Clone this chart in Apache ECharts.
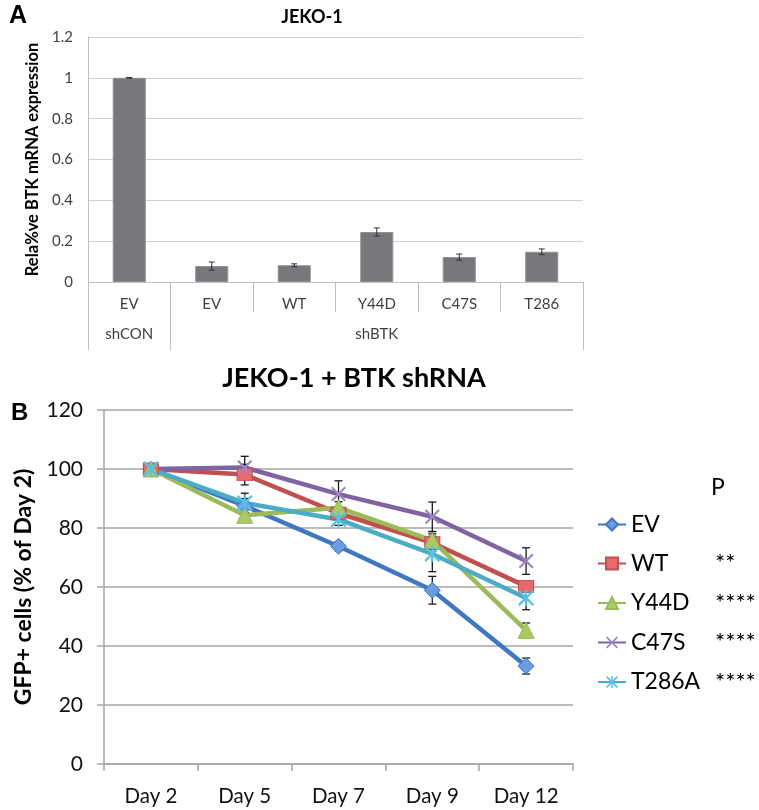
<!DOCTYPE html>
<html>
<head>
<meta charset="utf-8">
<script src="https://cdn.jsdelivr.net/npm/echarts@6/dist/echarts.min.js"></script>
<style>
html,body{margin:0;padding:0;background:#fff;}
#chart{width:759px;height:810px;}
</style>
</head>
<body>
<div id="chart"></div>
<script>
// ---------- Panel A data ----------
const aCategories = ['EV', 'EV', 'WT', 'Y44D', 'C47S', 'T286'];
const aGroups = ['shCON', '', '', 'shBTK', '', ''];
const aValues = [1.0, 0.078, 0.082, 0.245, 0.122, 0.148];
const aErrors = [0.002, 0.02, 0.007, 0.02, 0.015, 0.014];
const aTicks = [0, 0.2, 0.4, 0.6, 0.8, 1, 1.2];

// ---------- Panel B data ----------
const bDays = ['Day 2', 'Day 5', 'Day 7', 'Day 9', 'Day 12'];
const bNames = ['EV', 'WT', 'Y44D', 'C47S', 'T286A'];
const bPValues = ['', '**', '****', '****', '****'];
const evVals = [100, 87.5, 73.8, 58.9, 33.2];
const wtVals = [100, 98.1, 85.0, 75.0, 60.2];
const y44dVals = [100, 84.3, 86.9, 75.8, 45.3];
const c47sVals = [100, 100.5, 91.5, 83.8, 68.8];
const t286aVals = [100, 88.5, 82.9, 71.2, 56.3];
const evErr = [0, 2.5, 1.5, 4.7, 2.7];
const wtErr = [0, 3.5, 2.0, 3.0, 1.8];
const y44dErr = [0, 1.0, 2.0, 3.0, 2.5];
const c47sErr = [0, 3.8, 4.5, 5.0, 4.5];
const t286aErr = [0, 3.3, 2.0, 6.0, 4.0];
const bTicks = [0, 20, 40, 60, 80, 100, 120];

const FONT = 'Lato, "Open Sans", sans-serif';

const X_PATH = 'path://M0,1 L1,0 L10,9 L9,10 Z M9,0 L10,1 L1,10 L0,9 Z';
const STAR_PATH = 'path://M0,1 L1,0 L10,9 L9,10 Z M9,0 L10,1 L1,10 L0,9 Z M4.4,0 L5.6,0 L5.6,10 L4.4,10 Z';

const bSeriesDefs = [
  {name: 'EV', vals: evVals, err: evErr, color: '#3f77c2', fill: '#6b9be0', symbol: 'diamond', size: 16},
  {name: 'WT', vals: wtVals, err: wtErr, color: '#c0504d', fill: '#e76a6b', symbol: 'rect', size: [15, 12]},
  {name: 'Y44D', vals: y44dVals, err: y44dErr, color: '#9bbb59', fill: '#a9cc62', symbol: 'triangle', size: 16},
  {name: 'C47S', vals: c47sVals, err: c47sErr, color: '#8064a2', fill: '#9d86c2', symbol: X_PATH, size: 15},
  {name: 'T286A', vals: t286aVals, err: t286aErr, color: '#4bacc6', fill: '#55c3e6', symbol: STAR_PATH, size: 16}
];

function errRender(capHalf, color, width) {
  return function (params, api) {
    const x = api.value(0), y = api.value(1), e = api.value(2);
    if (!e) return null;
    const top = api.coord([x, y + e]);
    const bot = api.coord([x, y - e]);
    const st = {stroke: color, lineWidth: width};
    return {
      type: 'group',
      children: [
        {type: 'line', shape: {x1: top[0], y1: top[1], x2: bot[0], y2: bot[1]}, style: st},
        {type: 'line', shape: {x1: top[0] - capHalf, y1: top[1], x2: top[0] + capHalf, y2: top[1]}, style: st},
        {type: 'line', shape: {x1: bot[0] - capHalf, y1: bot[1], x2: bot[0] + capHalf, y2: bot[1]}, style: st}
      ]
    };
  };
}

const series = [];
series.push({
  type: 'bar', xAxisIndex: 0, yAxisIndex: 0,
  data: aValues, barWidth: '40%',
  itemStyle: {color: '#77787b', borderColor: '#8d8e91', borderWidth: 1},
  silent: true, z: 2
});
series.push({
  type: 'custom', xAxisIndex: 0, yAxisIndex: 0,
  data: aValues.map((v, i) => [i, v, aErrors[i]]),
  renderItem: errRender(3, '#333', 1), silent: true, z: 5
});

bSeriesDefs.forEach(d => {
  series.push({
    type: 'custom', xAxisIndex: 2, yAxisIndex: 1,
    data: d.vals.map((v, i) => [i, v, d.err[i]]),
    renderItem: errRender(4, '#1a1a1a', 1.3), silent: true, z: 2
  });
});
bSeriesDefs.forEach(d => {
  series.push({
    type: 'line', name: d.name, xAxisIndex: 2, yAxisIndex: 1,
    data: d.vals, symbol: d.symbol, symbolSize: d.size, showAllSymbol: true,
    lineStyle: {color: d.color, width: 4.5},
    itemStyle: {color: d.fill, borderColor: d.color, borderWidth: (d.symbol === X_PATH || d.symbol === STAR_PATH) ? 0 : 1},
    emphasis: {disabled: true}, z: 3
  });
});

const option = {
  animation: false,
  backgroundColor: '#ffffff',
  textStyle: {fontFamily: FONT},
  title: [
    {text: 'A', left: 9, top: 4, padding: 0, textStyle: {fontFamily: '"Liberation Sans", Arial, sans-serif', fontSize: 25, fontWeight: 'bold', color: '#000'}},
    {text: 'JEKO-1', left: 312, top: 8, padding: 0, textAlign: 'center', textStyle: {fontFamily: FONT, fontSize: 18, fontWeight: 'bold', color: '#000'}},
    {text: 'B', left: 11, top: 401, padding: 0, textStyle: {fontFamily: '"Liberation Sans", Arial, sans-serif', fontSize: 24, fontWeight: 'bold', color: '#000'}},
    {text: 'JEKO-1 + BTK shRNA', left: 354, top: 365, padding: 0, textAlign: 'center', textStyle: {fontFamily: FONT, fontSize: 27, fontWeight: 'bold', color: '#000'}},
    {text: 'P', left: 711, top: 476, padding: 0, textStyle: {fontFamily: FONT, fontSize: 23, fontWeight: 'normal', color: '#000'}}
  ],
  legend: {
    data: bNames,
    orient: 'vertical',
    left: 597, top: 513, padding: 0,
    itemWidth: 28, itemHeight: 15, itemGap: 15.5,
    selectedMode: false,
    formatter: function (name) {
      const p = bPValues[bNames.indexOf(name)];
      return '{n|' + name + '}' + (p ? '{p|' + p + '}' : '');
    },
    textStyle: {
      fontFamily: FONT, color: '#000',
      rich: {
        n: {fontFamily: FONT, fontSize: 23, width: 84, lineHeight: 24, color: '#000'},
        p: {fontFamily: FONT, fontSize: 24, lineHeight: 24, color: '#000'}
      }
    }
  },
  grid: [
    {left: 88, right: 176, top: 37, bottom: 528, containLabel: false},
    {left: 104, right: 186, top: 410, bottom: 46, containLabel: false}
  ],
  xAxis: [
    {
      type: 'category', gridIndex: 0, data: aCategories,
      axisLine: {show: true, lineStyle: {color: '#bfbfbf', width: 1}},
      axisTick: {show: true, length: 30, lineStyle: {color: '#bfbfbf'}},
      axisLabel: {fontSize: 15, color: '#404040', margin: 15, interval: 0, fontFamily: FONT}
    },
    {
      type: 'category', gridIndex: 0, data: aGroups, position: 'bottom', offset: 30,
      axisLine: {show: false},
      axisTick: {show: true, length: 38, interval: function (idx) { return idx <= 1; }, lineStyle: {color: '#bfbfbf'}},
      axisLabel: {fontSize: 15, color: '#404040', margin: 15, interval: 0, fontFamily: FONT}
    },
    {
      type: 'category', gridIndex: 1, data: bDays,
      axisLine: {show: true, lineStyle: {color: '#a6a6a6', width: 1.5}},
      axisTick: {show: true, length: 7, lineStyle: {color: '#a6a6a6', width: 1.5}},
      axisLabel: {fontSize: 20.5, color: '#111', margin: 22, interval: 0, fontFamily: FONT}
    }
  ],
  yAxis: [
    {
      type: 'value', gridIndex: 0, min: aTicks[0], max: aTicks[aTicks.length - 1], interval: 0.2,
      name: 'Rela%ve BTK mRNA expression', nameLocation: 'middle', nameGap: 43, nameRotate: 90,
      nameTextStyle: {fontFamily: FONT, fontSize: 16.5, fontWeight: 'bold', color: '#000'},
      axisLine: {show: true, lineStyle: {color: '#bfbfbf'}},
      axisTick: {show: false},
      splitLine: {show: true, lineStyle: {color: '#d0d0d0', width: 1}},
      axisLabel: {fontSize: 15, color: '#404040', margin: 15, fontFamily: FONT}
    },
    {
      type: 'value', gridIndex: 1, min: bTicks[0], max: bTicks[bTicks.length - 1], interval: 20,
      name: 'GFP+ cells (% of Day 2)', nameLocation: 'middle', nameGap: 69, nameRotate: 90,
      nameTextStyle: {fontFamily: FONT, fontSize: 23, fontWeight: 'bold', color: '#000'},
      axisLine: {show: true, lineStyle: {color: '#a6a6a6', width: 1.5}},
      axisTick: {show: true, length: 7, lineStyle: {color: '#a6a6a6', width: 1.5}},
      splitLine: {show: true, lineStyle: {color: '#a6a6a6', width: 1.5}},
      axisLabel: {fontSize: 21, color: '#111', margin: 21, fontFamily: FONT}
    }
  ],
  series: series
};

const chart = echarts.init(document.getElementById('chart'), null, {renderer: 'canvas'});
chart.setOption(option);
</script>
</body>
</html>
